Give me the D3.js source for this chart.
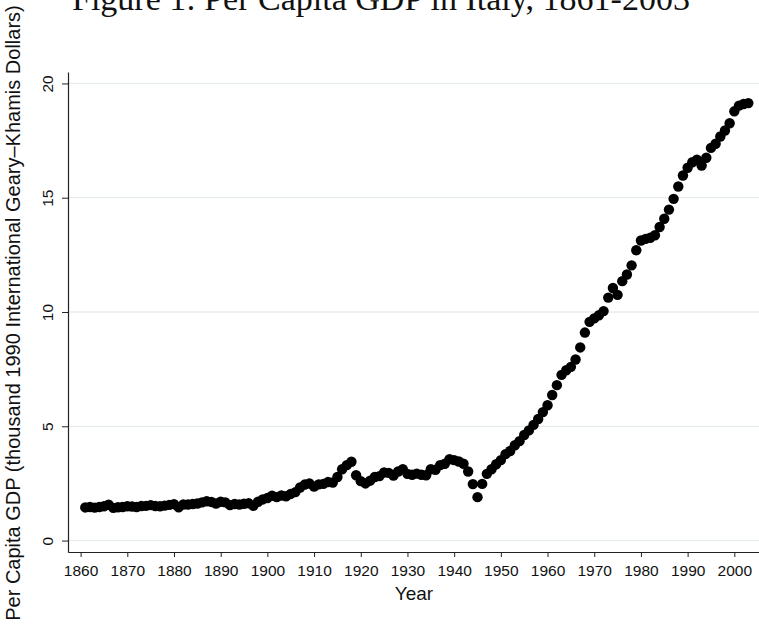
<!DOCTYPE html>
<html>
<head>
<meta charset="utf-8">
<script src="https://cdn.jsdelivr.net/npm/d3@7/dist/d3.min.js"></script>
<style>
  html, body { margin: 0; padding: 0; background: #fff; }
  svg { display: block; }
</style>
</head>
<body>
<svg id="chart" width="759" height="625"></svg>
<script>
// ---- data (thousand 1990 International Geary-Khamis dollars) ----
const years = d3.range(1861, 2004);
const gdp = [
  1.45, 1.47, 1.44, 1.47, 1.50, 1.57, 1.43, 1.46, 1.47, 1.50, // 1861-1870
  1.49, 1.47, 1.51, 1.52, 1.55, 1.51, 1.50, 1.53, 1.56, 1.59, // 1871-1880
  1.46, 1.58, 1.58, 1.60, 1.62, 1.67, 1.72, 1.69, 1.62, 1.70, // 1881-1890
  1.67, 1.55, 1.60, 1.58, 1.61, 1.63, 1.52, 1.70, 1.80, 1.86, // 1891-1900
  1.96, 1.90, 1.97, 1.94, 2.04, 2.12, 2.32, 2.45, 2.50, 2.36, // 1901-1910
  2.46, 2.48, 2.56, 2.54, 2.78, 3.12, 3.30, 3.45, 2.86, 2.60, // 1911-1920
  2.50, 2.62, 2.78, 2.82, 2.98, 2.96, 2.84, 3.02, 3.12, 2.92, // 1921-1930
  2.88, 2.93, 2.88, 2.86, 3.12, 3.10, 3.30, 3.36, 3.56, 3.52, // 1931-1940
  3.46, 3.36, 3.02, 2.47, 1.90, 2.48, 2.92, 3.12, 3.34, 3.52, // 1941-1950
  3.78, 3.92, 4.17, 4.35, 4.62, 4.82, 5.06, 5.32, 5.62, 5.92, // 1951-1960
  6.37, 6.80, 7.25, 7.45, 7.60, 7.92, 8.45, 9.10, 9.57, 9.72, // 1961-1970
  9.86, 10.04, 10.63, 11.05, 10.75, 11.35, 11.64, 12.04, 12.70, 13.13, // 1971-1980
  13.20, 13.25, 13.36, 13.72, 14.08, 14.48, 14.95, 15.49, 15.97, 16.31, // 1981-1990
  16.55, 16.66, 16.41, 16.75, 17.18, 17.36, 17.68, 17.94, 18.26, 18.78, // 1991-2000
  19.03, 19.10, 19.14                                                    // 2001-2003
];
const xTicks = d3.range(1860, 2001, 10);
const yTicks = [0, 5, 10, 15, 20];
const titleText = "Figure 1: Per Capita GDP in Italy, 1861-2003";
const xTitle = "Year";
const yTitle = "Per Capita GDP (thousand 1990 International Geary\u2013Khamis Dollars)";

(function () {
  const svg = d3.select("#chart");
  const mLeft = 68, mRight = 760, mTop = 72, mBottom = 552;
  const sans = "'Liberation Sans', Arial, Helvetica, sans-serif";

  const x = d3.scaleLinear().domain([1857.3, 2005.5]).range([mLeft, mRight]);
  const y = d3.scaleLinear().domain([-0.5, 20.5]).range([mBottom, mTop]);

  // gridlines
  svg.append("g")
    .selectAll("line")
    .data(yTicks)
    .join("line")
    .attr("x1", mLeft).attr("x2", 759)
    .attr("y1", d => y(d)).attr("y2", d => y(d))
    .attr("stroke", "#e6eef1")
    .attr("stroke-width", 1.3);

  // x axis
  const gx = svg.append("g")
    .attr("transform", `translate(0,${mBottom})`)
    .call(d3.axisBottom(x).tickValues(xTicks).tickFormat(d3.format("d"))
          .tickSize(5).tickSizeOuter(0).tickPadding(7.5));
  gx.select(".domain").attr("stroke", "#222").attr("stroke-width", 1.2);
  gx.selectAll(".tick line").attr("stroke", "#222").attr("stroke-width", 1);
  gx.selectAll(".tick text").attr("font-family", sans).attr("font-size", 15.5).attr("fill", "#111");

  // y axis
  const gy = svg.append("g")
    .attr("transform", `translate(${mLeft},0)`)
    .call(d3.axisLeft(y).tickValues(yTicks).tickFormat(d3.format("d"))
          .tickSize(6).tickSizeOuter(0));
  gy.select(".domain").attr("stroke", "#222").attr("stroke-width", 1.2);
  gy.selectAll(".tick line").attr("stroke", "#222").attr("stroke-width", 1);
  gy.selectAll(".tick text")
    .attr("font-family", sans).attr("font-size", 15.5).attr("fill", "#111")
    .attr("x", null).attr("dy", null)
    .attr("text-anchor", "middle")
    .attr("transform", "translate(-15,0) rotate(-90)");

  // points
  svg.append("g")
    .selectAll("circle")
    .data(years.map((yr, i) => ({ yr, v: gdp[i] })))
    .join("circle")
    .attr("cx", d => x(d.yr))
    .attr("cy", d => y(d.v))
    .attr("r", 5.2)
    .attr("fill", "#000");

  // axis titles
  svg.append("text")
    .attr("x", 414).attr("y", 600)
    .attr("text-anchor", "middle")
    .attr("font-family", sans).attr("font-size", 19).attr("fill", "#111")
    .text(xTitle);

  svg.append("text")
    .attr("transform", `translate(20,${(mTop + mBottom) / 2 + 1}) rotate(-90)`)
    .attr("text-anchor", "middle")
    .attr("font-family", sans).attr("font-size", 20).attr("fill", "#111")
    .text(yTitle);

  // title (partially clipped at the top, as in the reference)
  svg.append("text")
    .attr("x", 72).attr("y", 10)
    .attr("font-family", "'Liberation Serif', 'Times New Roman', serif")
    .attr("font-size", 34).attr("fill", "#111")
    .text(titleText);
})();
</script>
</body>
</html>
